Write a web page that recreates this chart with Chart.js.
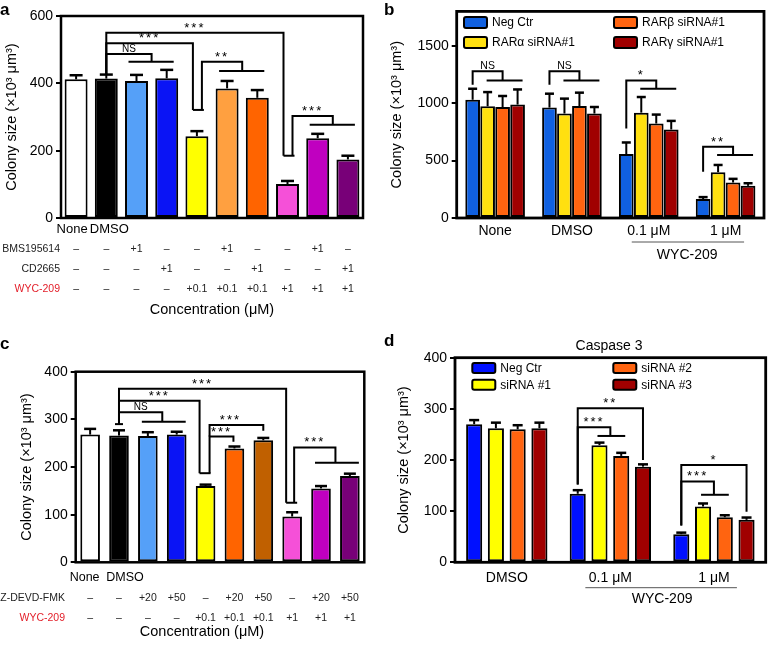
<!DOCTYPE html>
<html><head><meta charset="utf-8">
<script src="https://cdn.jsdelivr.net/npm/chart.js@4"></script>
<style>
html,body{margin:0;padding:0;background:#fff}
#wrap{position:relative;width:769px;height:645px;overflow:hidden}
canvas{position:absolute;display:block}
</style></head>
<body><div id="wrap">
<canvas id="ca" width="384" height="320" style="left:0;top:0"></canvas>
<canvas id="cb" width="385" height="320" style="left:384px;top:0"></canvas>
<canvas id="cc" width="384" height="325" style="left:0;top:320px"></canvas>
<canvas id="cd" width="385" height="325" style="left:384px;top:320px"></canvas>
</div>
<script>
// ---------- Panel a ----------
const aCategories = ['None','DMSO','BMS195614','CD2665','WYC-209 0.1','WYC-209 0.1 + BMS195614','WYC-209 0.1 + CD2665','WYC-209 1','WYC-209 1 + BMS195614','WYC-209 1 + CD2665'];
const aValues = [412, 414, 407, 415, 243, 385, 357, 101, 237, 174];
const aErrors = [12, 12, 18, 25, 15, 22, 23, 9, 13, 11];
const aRowBMS = ['–','–','+1','–','–','+1','–','–','+1','–'];
const aRowCD  = ['–','–','–','+1','–','–','+1','–','–','+1'];
const aRowWYC = ['–','–','–','–','+0.1','+0.1','+0.1','+1','+1','+1'];
const aYTicks = [0, 200, 400, 600];

// ---------- Panel b ----------
const bGroups = ['None','DMSO','0.1 μM','1 μM'];
const bSeries = ['Neg Ctr','RARα siRNA#1','RARβ siRNA#1','RARγ siRNA#1'];
const bNeg = [1030, 962, 557, 165];
const bNegErr = [96, 121, 101, 17];
const bAlpha = [973, 910, 918, 399];
const bAlphaErr = [124, 130, 136, 63];
const bBeta = [967, 976, 823, 309];
const bBetaErr = [96, 116, 78, 32];
const bGamma = [988, 910, 771, 280];
const bGammaErr = [132, 57, 75, 23];
const bYTicks = [0, 500, 1000, 1500];

// ---------- Panel c ----------
const cCategories = ['None','DMSO','Z-DEVD-FMK 20','Z-DEVD-FMK 50','WYC-209 0.1','WYC-209 0.1 + Z 20','WYC-209 0.1 + Z 50','WYC-209 1','WYC-209 1 + Z 20','WYC-209 1 + Z 50'];
const cValues = [268, 266, 265, 268, 160, 239, 256, 96, 155, 181];
const cErrors = [12, 11, 8, 6, 3, 4, 5, 9, 5, 5];
const cRowZ   = ['–','–','+20','+50','–','+20','+50','–','+20','+50'];
const cRowWYC = ['–','–','–','–','+0.1','+0.1','+0.1','+1','+1','+1'];
const cYTicks = [0, 100, 200, 300, 400];

// ---------- Panel d ----------
const dGroups = ['DMSO','0.1 μM','1 μM'];
const dSeries = ['Neg Ctr','siRNA #1','siRNA #2','siRNA #3'];
const dNeg = [270, 134, 55];
const dNegErr = [8, 7, 3];
const dS1 = [262, 229, 109];
const dS1Err = [11, 5, 6];
const dS2 = [260, 208, 88];
const dS2Err = [8, 6, 4];
const dS3 = [262, 187, 83];
const dS3Err = [11, 4.5, 4.5];
const dYTicks = [0, 100, 200, 300, 400];

const FONT = '"Liberation Sans", Arial, Helvetica, sans-serif';
const YTITLE = 'Colony size (×10³ μm³)';

function makeDecor(cfg) {
  return {
    id: 'decor',
    afterDatasetsDraw(chart) {
      const ctx = chart.ctx, ys = chart.scales.y, xs = chart.scales.x, ca = chart.chartArea;
      ctx.save();
      ctx.strokeStyle = '#000'; ctx.fillStyle = '#000'; ctx.lineCap = 'butt';
      // error bars
      cfg.errors.forEach((errs, d) => {
        const meta = chart.getDatasetMeta(d);
        const vals = chart.data.datasets[d].data;
        meta.data.forEach((el, i) => {
          const yt = ys.getPixelForValue(vals[i] + errs[i]);
          ctx.lineWidth = cfg.errW;
          ctx.beginPath(); ctx.moveTo(el.x, el.y); ctx.lineTo(el.x, yt); ctx.stroke();
          ctx.lineWidth = cfg.capW;
          ctx.beginPath(); ctx.moveTo(el.x - cfg.cap / 2, yt); ctx.lineTo(el.x + cfg.cap / 2, yt); ctx.stroke();
        });
      });
      // frame
      ctx.lineWidth = cfg.frameW;
      ctx.strokeRect(ca.left, ca.top, ca.right - ca.left, ca.bottom - ca.top);
      // brackets
      const ex = r => { const a = Array.isArray(r) ? r : [0, r]; return chart.getDatasetMeta(a[0]).data[a[1]].x; };
      ctx.lineWidth = cfg.brW; ctx.lineJoin = 'miter';
      (cfg.brackets || []).forEach(b => {
        const x0 = ex(b.from) + (b.fromDx || 0);
        const tx = b.to.map(ex);
        const first = Math.min(...tx), last = Math.max(...tx);
        const xd = tx.length > 1 ? (first + last) / 2 : first + (b.toDx || 0);
        const yS = ys.getPixelForValue(b.start), yT = ys.getPixelForValue(b.top), yD = ys.getPixelForValue(b.drop);
        ctx.beginPath();
        ctx.moveTo(x0, yS); ctx.lineTo(x0, yT); ctx.lineTo(xd, yT); ctx.lineTo(xd, yD);
        ctx.stroke();
        if (tx.length > 1) {
          ctx.beginPath(); ctx.moveTo(first - cfg.extL, yD); ctx.lineTo(last + cfg.extR, yD); ctx.stroke();
        } else if (b.foot) {
          ctx.beginPath(); ctx.moveTo(xd, yD); ctx.lineTo(xd + cfg.footW, yD); ctx.stroke();
        }
        if (b.startFoot) {
          ctx.beginPath(); ctx.moveTo(x0 - 4, yS); ctx.lineTo(x0 + 4, yS); ctx.stroke();
        }
        const isNS = b.label === 'NS';
        ctx.font = (isNS ? cfg.nsSize : cfg.starSize) + 'px ' + FONT;
        ctx.letterSpacing = isNS ? '0px' : '2px';
        ctx.textAlign = 'center'; ctx.textBaseline = 'alphabetic';
        ctx.fillText(b.label, (x0 + xd) / 2 + (b.labelDx || 0), yT - (isNS ? 2 : 1));
        ctx.letterSpacing = '0px';
      });
      // category labels
      ctx.textBaseline = 'middle';
      (cfg.xLabels || []).forEach(l => {
        ctx.font = l.size + 'px ' + FONT; ctx.textAlign = 'center';
        const x = l.group ? xs.getPixelForValue(l.i) : ex(l.i);
        ctx.fillText(l.text, x + (l.dx || 0), l.y);
      });
      // table rows
      (cfg.rows || []).forEach(r => {
        ctx.font = cfg.rowSize + 'px ' + FONT;
        ctx.fillStyle = r.color; ctx.textAlign = 'right';
        ctx.fillText(r.label, cfg.rowLabelX, r.y);
        ctx.fillStyle = '#222'; ctx.textAlign = 'center';
        r.cells.forEach((c, i) => ctx.fillText(c, ex(i), r.y));
      });
      ctx.fillStyle = '#000';
      // underline + sub label
      if (cfg.under) {
        const u = cfg.under;
        const xa = xs.getPixelForValue(u.from) + u.dxA, xb = xs.getPixelForValue(u.to) + u.dxB;
        ctx.strokeStyle = '#555'; ctx.lineWidth = 1;
        ctx.beginPath(); ctx.moveTo(xa, u.y); ctx.lineTo(xb, u.y); ctx.stroke();
        ctx.font = u.size + 'px ' + FONT; ctx.textAlign = 'center';
        ctx.fillText(u.text, (xs.getPixelForValue(u.from) + xs.getPixelForValue(u.to)) / 2, u.ty);
      }
      // free texts
      (cfg.texts || []).forEach(t => {
        ctx.font = (t.bold ? 'bold ' : '') + t.size + 'px ' + FONT;
        ctx.textAlign = t.align || 'center'; ctx.textBaseline = t.base || 'middle';
        ctx.fillStyle = t.color || '#000';
        ctx.fillText(t.text, t.x, t.y);
      });
      // legend
      if (cfg.legend) {
        const lg = cfg.legend;
        ctx.textBaseline = 'middle'; ctx.textAlign = 'left';
        ctx.font = lg.size + 'px ' + FONT;
        chart.data.datasets.forEach((ds, k) => {
          const p = lg.pos[k];
          ctx.fillStyle = ds.backgroundColor;
          ctx.strokeStyle = '#000'; ctx.lineWidth = 2;
          ctx.beginPath();
          if (ctx.roundRect) ctx.roundRect(p[0], p[1] - lg.h / 2, lg.w, lg.h, 2); else ctx.rect(p[0], p[1] - lg.h / 2, lg.w, lg.h);
          ctx.fill(); ctx.stroke();
          ctx.fillStyle = '#000';
          ctx.fillText(ds.label, p[0] + lg.w + 5, p[1] + 0.5);
        });
      }
      ctx.restore();
    }
  };
}

function opts(p) {
  return {
    responsive: false, animation: false, devicePixelRatio: 1, events: [],
    layout: { padding: { left: p.padL, top: p.T, right: p.W - p.R, bottom: p.H - p.B } },
    plugins: { legend: { display: false }, tooltip: { enabled: false }, title: { display: false } },
    scales: {
      x: { type: 'category', offset: true, ticks: { display: false }, grid: { display: false }, border: { display: false },
           afterFit: s => { s.height = 0; } },
      y: { min: 0, max: p.ymax,
           afterBuildTicks: s => { s.ticks = p.ticks.map(v => ({ value: v })); },
           afterFit: s => { s.width = p.L - p.padL; },
           ticks: { color: '#000', font: { family: FONT, size: 14 }, padding: 3, callback: v => String(v) },
           grid: { display: true, drawOnChartArea: false, drawTicks: true, tickLength: 5, color: '#000', lineWidth: 2 },
           border: { display: false },
           title: { display: true, text: YTITLE, color: '#000', font: { family: FONT, size: 14.5 }, padding: 0 } }
    }
  };
}

// ---- Chart a ----
new Chart(document.getElementById('ca'), {
  type: 'bar',
  data: { labels: aCategories, datasets: [{ data: aValues,
    backgroundColor: ['#FFFFFF','#000000','#55A0F8','#0A14F5','#FFFF00','#FFA040','#FF6400','#F550D8','#C000C0','#780078'],
    borderColor: '#000', borderWidth: 2, borderSkipped: false, barPercentage: 0.76, categoryPercentage: 1 }] },
  options: opts({ padL: 3.3, L: 61, R: 363, T: 16, B: 218, W: 384, H: 320, ymax: 600, ticks: aYTicks }),
  plugins: [makeDecor({
    errors: [aErrors], errW: 2, capW: 2.5, cap: 13, frameW: 2.5, brW: 2, extL: 8, extR: 7, footW: 11, nsSize: 10, starSize: 13,
    brackets: [
      { from: 1, to: [2, 3], start: 428, top: 487, drop: 464, label: 'NS' },
      { from: 1, to: [4], toDx: -4, foot: true, start: 428, top: 519, drop: 321, label: '***' },
      { from: 1, to: [7], toDx: -4, foot: true, start: 428, top: 550, drop: 185, label: '***' },
      { from: 4, fromDx: 5, to: [5, 6], start: 321, top: 464, drop: 437, label: '**' },
      { from: 7, fromDx: 5, to: [8, 9], start: 185, top: 303, drop: 277, label: '***' }
    ],
    xLabels: [ { text: aCategories[0], i: 0, dx: -4, y: 229, size: 13 }, { text: aCategories[1], i: 1, dx: 3, y: 229, size: 13 } ],
    rowSize: 10.5, rowLabelX: 60,
    rows: [ { label: 'BMS195614', color: '#222', cells: aRowBMS, y: 249.5 },
            { label: 'CD2665', color: '#222', cells: aRowCD, y: 269.5 },
            { label: 'WYC-209', color: '#E3202B', cells: aRowWYC, y: 289.5 } ],
    texts: [ { text: 'Concentration (μM)', x: 212, y: 309.5, size: 14.5 },
             { text: 'a', x: 0, y: 15, size: 17, bold: true, align: 'left', base: 'alphabetic' } ]
  })]
});

// ---- Chart b ----
new Chart(document.getElementById('cb'), {
  type: 'bar',
  data: { labels: bGroups, datasets: [
    { label: bSeries[0], data: bNeg, backgroundColor: '#1060E0' },
    { label: bSeries[1], data: bAlpha, backgroundColor: '#FFE010' },
    { label: bSeries[2], data: bBeta, backgroundColor: '#FF6410' },
    { label: bSeries[3], data: bGamma, backgroundColor: '#A00000' }
  ].map(d => Object.assign(d, { borderColor: '#000', borderWidth: 2, borderSkipped: false, barPercentage: 0.98, categoryPercentage: 0.78 })) },
  options: opts({ padL: 4.6, L: 72.7, R: 380, T: 10, B: 218, W: 385, H: 320, ymax: 1800, ticks: bYTicks }),
  plugins: [makeDecor({
    errors: [bNegErr, bAlphaErr, bBetaErr, bGammaErr], errW: 2, capW: 2.5, cap: 9, frameW: 2.8, brW: 2, extL: 1, extR: 5, footW: 10, nsSize: 10.5, starSize: 13,
    brackets: [
      { from: [0, 0], to: [[1, 0], [3, 0]], start: 1160, top: 1279, drop: 1199, label: 'NS' },
      { from: [0, 1], to: [[1, 1], [3, 1]], start: 1160, top: 1279, drop: 1199, label: 'NS' },
      { from: [0, 2], to: [[1, 2], [3, 2]], start: 780, top: 1199, drop: 1126, label: '*' },
      { from: [0, 3], to: [[1, 3], [3, 3]], start: 404, top: 621, drop: 549, label: '**' }
    ],
    xLabels: bGroups.map((g, i) => ({ text: g, i: i, group: true, y: 230.7, size: 14 })),
    under: { from: 2, to: 3, dxA: -17, dxB: 18.5, y: 242, text: 'WYC-209', ty: 255, size: 14 },
    legend: { size: 12, w: 23, h: 11, pos: [[80, 22.5], [80, 42.5], [230, 22.5], [230, 42.5]] },
    texts: [ { text: 'b', x: 0, y: 15, size: 17, bold: true, align: 'left', base: 'alphabetic' } ]
  })]
});

// ---- Chart c ----
new Chart(document.getElementById('cc'), {
  type: 'bar',
  data: { labels: cCategories, datasets: [{ data: cValues,
    backgroundColor: ['#FFFFFF','#000000','#55A0F8','#0A14F5','#FFFF00','#FF6400','#C06000','#F550D8','#C000C0','#780078'],
    borderColor: '#000', borderWidth: 2, borderSkipped: false, barPercentage: 0.68, categoryPercentage: 1 }] },
  options: opts({ padL: 18, L: 75.7, R: 364.3, T: 51.7, B: 242.3, W: 384, H: 325, ymax: 400, ticks: cYTicks }),
  plugins: [makeDecor({
    errors: [cErrors], errW: 2, capW: 2.5, cap: 12, frameW: 2.5, brW: 2, extL: 6, extR: 9, footW: 11, nsSize: 10, starSize: 13,
    brackets: [
      { from: 1, to: [2, 3], start: 290, top: 315, drop: 295, label: 'NS', startFoot: true },
      { from: 1, to: [4], toDx: -6, foot: true, start: 290, top: 339, drop: 187, label: '***' },
      { from: 1, to: [7], toDx: -6, foot: true, start: 290, top: 364, drop: 125, label: '***' },
      { from: 4, fromDx: 4, to: [5], toDx: -1, start: 187, top: 264, drop: 253, label: '***' },
      { from: 4, fromDx: 4, to: [6], toDx: 0, start: 264, top: 288, drop: 276, label: '***', labelDx: -6 },
      { from: 7, fromDx: 2, to: [8, 9], start: 125, top: 241, drop: 209, label: '***' }
    ],
    xLabels: [ { text: cCategories[0], i: 0, dx: -5.5, y: 257.7, size: 12.5 }, { text: cCategories[1], i: 1, dx: 6, y: 257.7, size: 12.5 } ],
    rowSize: 10.5, rowLabelX: 65,
    rows: [ { label: 'Z-DEVD-FMK', color: '#222', cells: cRowZ, y: 277.7 },
            { label: 'WYC-209', color: '#E3202B', cells: cRowWYC, y: 297.7 } ],
    texts: [ { text: 'Concentration (μM)', x: 202, y: 311.7, size: 14.5 },
             { text: 'c', x: 0, y: 29, size: 17, bold: true, align: 'left', base: 'alphabetic' } ]
  })]
});

// ---- Chart d ----
new Chart(document.getElementById('cd'), {
  type: 'bar',
  data: { labels: dGroups, datasets: [
    { label: dSeries[0], data: dNeg, backgroundColor: '#0010FF' },
    { label: dSeries[1], data: dS1, backgroundColor: '#FFFF00' },
    { label: dSeries[2], data: dS2, backgroundColor: '#FF6410' },
    { label: dSeries[3], data: dS3, backgroundColor: '#A00000' }
  ].map(d => Object.assign(d, { borderColor: '#000', borderWidth: 2, borderSkipped: false, barPercentage: 0.74, categoryPercentage: 0.84 })) },
  options: opts({ padL: 11.3, L: 71, R: 381.7, T: 37.7, B: 242.3, W: 385, H: 325, ymax: 400, ticks: dYTicks }),
  plugins: [makeDecor({
    errors: [dNegErr, dS1Err, dS2Err, dS3Err], errW: 2, capW: 2.5, cap: 10, frameW: 2.8, brW: 2, extL: 2, extR: 4, footW: 10, nsSize: 10.5, starSize: 13,
    brackets: [
      { from: [0, 1], to: [[3, 1]], start: 152, top: 301, drop: 200, label: '**' },
      { from: [0, 1], to: [[1, 1], [2, 1]], start: 152, top: 264, drop: 247, label: '***' },
      { from: [0, 2], to: [[3, 2]], start: 72, top: 190, drop: 99, label: '*' },
      { from: [0, 2], to: [[1, 2], [2, 2]], start: 72, top: 158, drop: 132, label: '***' }
    ],
    xLabels: dGroups.map((g, i) => ({ text: g, i: i, group: true, y: 257.7, size: 14 })),
    under: { from: 1, to: 2, dxA: -25, dxB: 23, y: 267.7, text: 'WYC-209', ty: 279.3, size: 14 },
    legend: { size: 12, w: 23, h: 10, pos: [[88.3, 48], [88.3, 64.7], [229.3, 48], [229.3, 64.7]] },
    texts: [ { text: 'Caspase 3', x: 225, y: 26, size: 14 },
             { text: 'd', x: 0, y: 26, size: 17, bold: true, align: 'left', base: 'alphabetic' } ]
  })]
});
</script>
</body></html>
